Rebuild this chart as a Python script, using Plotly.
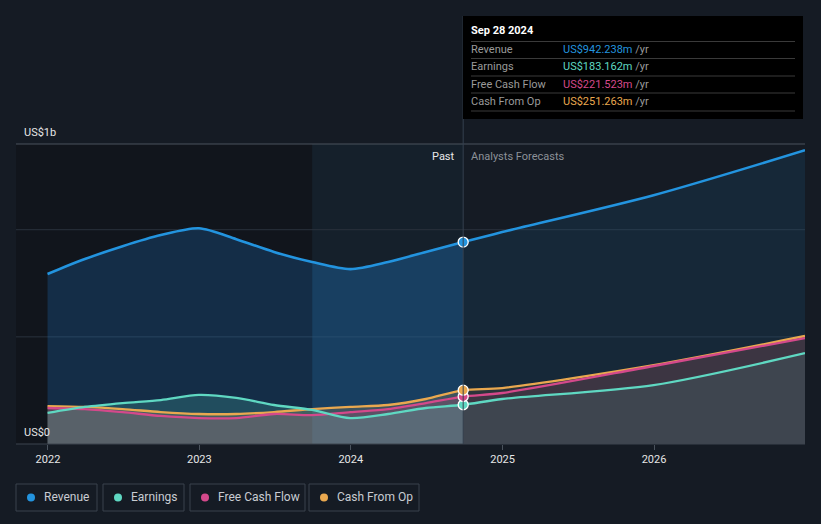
import plotly.graph_objects as go

# ---------------- data (US$ millions) ----------------
dates_past = ['2021-12-31', '2022-03-31', '2022-06-30', '2022-09-30', '2022-12-31',
              '2023-03-31', '2023-06-30', '2023-09-30', '2023-12-31', '2024-03-31',
              '2024-06-30', '2024-09-28']
dates_fc = ['2024-12-31', '2025-12-31', '2026-12-31']

revenue_past = [793, 863, 923, 975, 1007, 956, 896, 849, 816, 849, 896, 942.238]
revenue_fc = [989, 1161, 1371]
earnings_past = [145, 173, 191, 205, 229, 215, 182, 159, 121, 140, 168, 183.162]
earnings_fc = [210, 275, 424]
fcf_past = [168, 163, 149, 131, 121, 121, 140, 135, 149, 163, 191, 221.523]
fcf_fc = [238, 364, 494]
cfo_past = [177, 173, 163, 149, 140, 140, 149, 163, 173, 182, 210, 251.263]
cfo_fc = [261, 368, 504]

year_ticks = ['2022-01-01', '2023-01-01', '2024-01-01', '2025-01-01', '2026-01-01']
year_labels = ['2022', '2023', '2024', '2025', '2026']

series_names = ['Revenue', 'Earnings', 'Free Cash Flow', 'Cash From Op']
tooltip_values = ['US$942.238m', 'US$183.162m', 'US$221.523m', 'US$251.263m']
tooltip_date = 'Sep 28 2024'
divider_date = '2024-09-28'
highlight_start = '2023-09-30'
x_start, x_end = '2021-10-16', '2026-12-31'
y_max = 1400

# ---------------- styling ----------------
BG = '#151b24'
COL = {'Revenue': '#2394df', 'Earnings': '#5fd8c2', 'Free Cash Flow': '#d4498b',
       'Cash From Op': '#e9a84f'}
RGB = {'Revenue': (35, 148, 223), 'Earnings': (88, 220, 196), 'Free Cash Flow': (212, 73, 139),
       'Cash From Op': (233, 168, 79)}
FONT = 'Roboto, "Open Sans", Arial, sans-serif'

L, R, T, B = 16, 805, 144, 444


def px(x):
    return (x - L) / (R - L)


def py(y):
    return (B - y) / (B - T)


def rgba(name, a, rgb=None):
    r, g, b = rgb if rgb else RGB[name]
    return f'rgba({r},{g},{b},{a})'


dates_all = dates_past + dates_fc
series = {
    'Revenue': revenue_past + revenue_fc,
    'Earnings': earnings_past + earnings_fc,
    'Free Cash Flow': fcf_past + fcf_fc,
    'Cash From Op': cfo_past + cfo_fc,
}
i_hl = dates_all.index(highlight_start)
i_div = dates_all.index(divider_date)

fig = go.Figure()


def fill_seg(name, i0, i1, color):
    fig.add_trace(go.Scatter(
        x=dates_all[i0:i1 + 1], y=series[name][i0:i1 + 1], mode='lines',
        line=dict(width=0, shape='spline', smoothing=0.8), fill='tozeroy',
        fillcolor=color, hoverinfo='skip', showlegend=False))


# revenue fills (three zones)
fill_seg('Revenue', 0, i_hl, rgba('Revenue', 0.25, (30, 120, 200)))
fill_seg('Revenue', i_hl, i_div, rgba('Revenue', 0.32, (30, 130, 210)))
fill_seg('Revenue', i_div, len(dates_all) - 1, rgba('Revenue', 0.11))

# lower series fills
for nm in ['Cash From Op', 'Free Cash Flow', 'Earnings']:
    fill_seg(nm, 0, i_div, rgba(nm, 0.19))
    fill_seg(nm, i_div, len(dates_all) - 1, rgba(nm, 0.1))

# lines
for nm, w in [('Cash From Op', 2.3), ('Free Cash Flow', 2.3), ('Earnings', 2.3), ('Revenue', 2.6)]:
    fig.add_trace(go.Scatter(
        x=dates_all, y=series[nm], mode='lines',
        line=dict(color=COL[nm], width=w, shape='spline', smoothing=0.8),
        hoverinfo='skip', showlegend=False))

# markers at the divider
for nm in ['Earnings', 'Free Cash Flow', 'Cash From Op', 'Revenue']:
    fig.add_trace(go.Scatter(
        x=[divider_date], y=[series[nm][i_div]], mode='markers',
        marker=dict(color=COL[nm], size=10, line=dict(color='white', width=1.3)),
        hoverinfo='skip', showlegend=False, cliponaxis=False))

shapes = []
# background zones
shapes.append(dict(type='rect', xref='x', yref='paper', x0=x_start, x1=highlight_start, y0=0, y1=1,
                   fillcolor='#11151c', line=dict(width=0), layer='below'))
shapes.append(dict(type='rect', xref='x', yref='paper', x0=highlight_start, x1=divider_date, y0=0, y1=1,
                   fillcolor='#15202b', line=dict(width=0), layer='below'))
# gridlines
for yv, c in [(500, '#2a323d'), (1000, '#2a323d')]:
    shapes.append(dict(type='line', xref='paper', yref='y', x0=0, x1=1, y0=yv, y1=yv,
                       line=dict(color=c, width=1), layer='below'))
shapes.append(dict(type='line', xref='paper', yref='paper', x0=0, x1=1, y0=1, y1=1,
                   line=dict(color='#4a525c', width=1)))
shapes.append(dict(type='line', xref='paper', yref='paper', x0=0, x1=1, y0=0, y1=0,
                   line=dict(color='#3c444e', width=1)))
# divider line
shapes.append(dict(type='line', xref='x', yref='paper', x0=divider_date, x1=divider_date,
                   y0=0, y1=py(16), line=dict(color='#34414f', width=1)))
# tooltip box
shapes.append(dict(type='rect', xref='paper', yref='paper', x0=px(463), x1=px(803), y0=py(119), y1=py(16),
                   fillcolor='#000000', line=dict(width=0)))
for yy in [41.5, 58.5, 76, 93, 111]:
    shapes.append(dict(type='line', xref='paper', yref='paper', x0=px(471), x1=px(795), y0=py(yy), y1=py(yy),
                       line=dict(color='#3a3a3a', width=1)))

annotations = []
annotations.append(dict(xref='paper', yref='paper', x=px(469), y=py(31), text='<b>' + tooltip_date + '</b>',
                        showarrow=False, xanchor='left', yanchor='middle',
                        font=dict(family=FONT, size=11, color='#ffffff')))
for k, (nm, val) in enumerate(zip(series_names, tooltip_values)):
    yy = [49.5, 66.5, 84, 101][k]
    annotations.append(dict(xref='paper', yref='paper', x=px(469), y=py(yy), text=nm, showarrow=False,
                            xanchor='left', yanchor='middle', font=dict(family=FONT, size=11, color='#9a9a9a')))
    annotations.append(dict(xref='paper', yref='paper', x=px(561), y=py(yy),
                            text=f'<span style="color:{COL[nm]}">{val}</span> /yr', showarrow=False,
                            xanchor='left', yanchor='middle', font=dict(family=FONT, size=11, color='#9a9a9a')))

annotations.append(dict(xref='paper', yref='paper', x=px(457), y=py(156), text='Past', showarrow=False,
                        xanchor='right', yanchor='middle', font=dict(family=FONT, size=11, color='#e8e8e8')))
annotations.append(dict(xref='paper', yref='paper', x=px(469), y=py(156), text='Analysts Forecasts',
                        showarrow=False, xanchor='left', yanchor='middle',
                        font=dict(family=FONT, size=11, color='#8c9198')))
annotations.append(dict(xref='paper', yref='paper', x=px(22), y=py(132), text='US$1b', showarrow=False,
                        xanchor='left', yanchor='middle', font=dict(family=FONT, size=11, color='#e6e6e6')))
annotations.append(dict(xref='paper', yref='paper', x=px(22), y=py(432), text='US$0', showarrow=False,
                        xanchor='left', yanchor='middle', font=dict(family=FONT, size=11, color='#e6e6e6')))

# custom legend
legend_boxes = [(16, 97), (103, 184), (190, 305), (309, 419)]
for nm, (x0, x1) in zip(series_names, legend_boxes):
    shapes.append(dict(type='rect', xref='paper', yref='paper', x0=px(x0), x1=px(x1), y0=py(511), y1=py(484),
                       line=dict(color='#3a424c', width=1), fillcolor='rgba(0,0,0,0)'))
    shapes.append(dict(type='circle', xref='paper', yref='paper', x0=px(x0 + 11), x1=px(x0 + 19),
                       y0=py(501.5), y1=py(493.5), fillcolor=COL[nm], line=dict(width=0)))
    annotations.append(dict(xref='paper', yref='paper', x=px(x0 + 26), y=py(497.5), text=nm, showarrow=False,
                            xanchor='left', yanchor='middle', font=dict(family=FONT, size=12, color='#c8ccd2')))

fig.update_layout(
    width=821, height=524, margin=dict(l=L, r=821 - R, t=T, b=524 - B),
    paper_bgcolor=BG, plot_bgcolor=BG, showlegend=False,
    shapes=shapes, annotations=annotations,
    xaxis=dict(type='date', range=[x_start, x_end], tickvals=year_ticks, ticktext=year_labels,
               showgrid=False, zeroline=False, ticks='outside', ticklen=5, tickcolor='#4a525c',
               tickfont=dict(family=FONT, size=11, color='#e6e6e6'), showline=False),
    yaxis=dict(range=[0, y_max], showgrid=False, zeroline=False, showticklabels=False, fixedrange=True),
)

fig.write_html('out.html', config={'displayModeBar': False},
               post_script="document.body.style.margin='0';document.body.style.background='" + BG + "';")
